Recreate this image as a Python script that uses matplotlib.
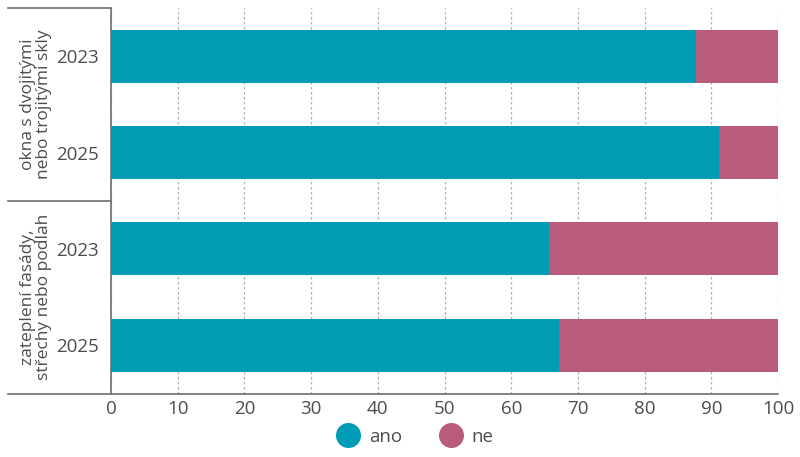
import matplotlib
matplotlib.use("Agg")
import matplotlib.pyplot as plt
import matplotlib.transforms as mtransforms
from matplotlib.lines import Line2D
import numpy as np

plt.rcParams['font.family'] = ['Open Sans', 'DejaVu Sans']

years = ["2023", "2025", "2023", "2025"]
groups = ["okna s dvojitými\nnebo trojitými skly", "zateplení fasády,\nstřechy nebo podlah"]
ano = [87.7, 91.1, 65.6, 67.2]
ne = [100 - v for v in ano]

teal = "#009bb4"
pink = "#b95b7c"
txt = "#4d4d4d"
line_c = "#6f6f6f"
fs = 13.5

fig = plt.figure(figsize=(8, 4.57), dpi=100)
ax = fig.add_axes([111/800, 1 - 393.5/457, 667/800, 385.5/457])

y = np.arange(len(years))
ax.barh(y, ano, height=0.55, color=teal, zorder=2)
ax.barh(y, ne, left=ano, height=0.55, color=pink, zorder=2)

ax.set_xlim(0, 100)
ax.set_ylim(3.5, -0.5)
ax.set_xticks(range(0, 101, 10))
ax.set_yticks(y)
ax.set_yticklabels(years)
ax.tick_params(axis="both", length=0, labelsize=fs, colors=txt, pad=5)
ax.tick_params(axis="y", pad=9)
ax.xaxis.grid(True, linestyle=(0, (2, 2)), color="#b0b0b0", linewidth=0.9, zorder=0)

for s in ["top", "right", "bottom"]:
    ax.spines[s].set_visible(False)
ax.spines["left"].set_color(line_c)
ax.spines["left"].set_linewidth(1.2)

# horizontal rules in the label area
trans = mtransforms.blended_transform_factory(ax.transAxes, ax.transData)
x0 = (8 - 111) / 667
for yy, x1 in [(-0.5, 0), (1.5, 0), (3.5, 1)]:
    ax.plot([x0, x1], [yy, yy], transform=trans, color=line_c, linewidth=1.2,
            clip_on=False, zorder=3)

# group labels
for i, g in enumerate(groups):
    ax.text((36 - 111) / 667, 0.5 + 2 * i, g, transform=trans, rotation=90,
            ha="center", va="center", fontsize=12.5, color=txt, linespacing=1.0)

handles = [Line2D([], [], marker="o", linestyle="", markersize=17, color=teal),
           Line2D([], [], marker="o", linestyle="", markersize=17, color=pink)]
fig.legend(handles, ["ano", "ne"], loc="center", bbox_to_anchor=(0.514, 1 - 437/457),
           ncol=2, frameon=False, handletextpad=0.1, columnspacing=1.6,
           fontsize=fs, labelcolor=txt)

fig.savefig("out.png", dpi=100)
